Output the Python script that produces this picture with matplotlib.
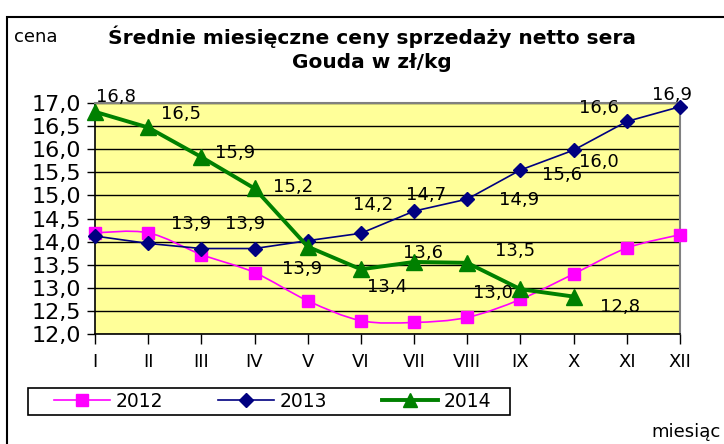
import matplotlib
matplotlib.use("Agg")
import matplotlib.pyplot as plt
from matplotlib.path import Path
from matplotlib.patches import PathPatch, Rectangle
from matplotlib.lines import Line2D
import numpy as np

# ---------------- data ----------------
months = ["I", "II", "III", "IV", "V", "VI", "VII", "VIII", "IX", "X", "XI", "XII"]
y2012 = [14.19, 14.19, 13.72, 13.33, 12.72, 12.29, 12.25, 12.36, 12.75, 13.30, 13.86, 14.15]
y2013 = [14.12, 13.96, 13.85, 13.85, 14.02, 14.18, 14.66, 14.92, 15.55, 15.98, 16.60, 16.92]
y2014 = [16.81, 16.47, 15.83, 15.15, 13.89, 13.40, 13.56, 13.54, 12.97, 12.81]
labels2013 = [None, None, "13,9", "13,9", None, "14,2", "14,7", "14,9", "15,6", "16,0", "16,6", "16,9"]
labels2014 = ["16,8", "16,5", "15,9", "15,2", "13,9", "13,4", "13,6", "13,5", "13,0", "12,8"]
series_names = ["2012", "2013", "2014"]
yticks = [12.0, 12.5, 13.0, 13.5, 14.0, 14.5, 15.0, 15.5, 16.0, 16.5, 17.0]

# label offsets in pixels (style only)
off2013 = [None, None, (-10, 25), (-9, 25), None, (12, 28), (12, 16), (52, -1),
           (42, -5), (25, -12), (-28, 13), (-8, 12)]
off2014 = [(21, 15), (33, 13), (34, 4), (39, 1), (-6, -22), (26, -18), (9, 9),
           (48, 12), (-28, -4), (46, -10)]

FONT = "DejaVu Sans"
plt.rcParams["font.family"] = [FONT]

W, H = 724, 444
fig = plt.figure(figsize=(W / 100, H / 100), dpi=100)
fig.patch.set_facecolor("white")

# outer frame
fig.patches.append(Rectangle((7 / W, -0.1), 1.2, 1 - 17 / H + 0.1, transform=fig.transFigure,
                             fill=False, edgecolor="black", linewidth=1.5, clip_on=False))

L, R, T, B = 95, 680, 103, 334
ax = fig.add_axes([L / W, 1 - B / H, (R - L) / W, (B - T) / H])
ax.set_facecolor("#FFFF99")
ax.set_xlim(0, 11)
ax.set_ylim(12, 17)

x = np.arange(len(months))

# grid
ax.set_yticks(yticks)
ax.set_yticklabels([f"{v:.1f}".replace(".", ",") for v in yticks], fontsize=16)
ax.yaxis.grid(True, color="black", linewidth=1.0)
ax.set_axisbelow(True)
ax.set_xticks(x)
ax.set_xticklabels(months, fontsize=13)
ax.tick_params(axis="y", direction="out", length=6, width=1, pad=4)
ax.tick_params(axis="x", direction="out", length=7, width=1, pad=7)
for s in ["top", "right"]:
    ax.spines[s].set_color("#808080")
    ax.spines[s].set_linewidth(1.5)
for s in ["left", "bottom"]:
    ax.spines[s].set_color("black")
    ax.spines[s].set_linewidth(1.2)

# smoothed 2012 line (Catmull-Rom as Bezier)
pts = np.column_stack([x, y2012])
verts = [tuple(pts[0])]
codes = [Path.MOVETO]
n = len(pts)
for i in range(n - 1):
    p0 = pts[i - 1] if i > 0 else pts[i]
    p1 = pts[i]
    p2 = pts[i + 1]
    p3 = pts[i + 2] if i + 2 < n else pts[i + 1]
    c1 = p1 + (p2 - p0) / 6
    c2 = p2 - (p3 - p1) / 6
    verts += [tuple(c1), tuple(c2), tuple(p2)]
    codes += [Path.CURVE4] * 3
ax.add_patch(PathPatch(Path(verts, codes), fill=False, edgecolor="#FF00FF",
                       linewidth=1.2, zorder=3, clip_on=False))
ax.plot(x, y2012, linestyle="none", marker="s", markersize=8, color="#FF00FF",
        zorder=4, clip_on=False)

ax.plot(x, y2013, color="#000080", linewidth=1.2, marker="D", markersize=7,
        zorder=5, clip_on=False)
ax.plot(x[:len(y2014)], y2014, color="#008000", linewidth=2.8, marker="^",
        markersize=12, zorder=6, clip_on=False)

lab_kw = dict(textcoords="offset pixels", ha="center", va="center", fontsize=13,
              color="black", zorder=8, annotation_clip=False)
for i, (lab, off) in enumerate(zip(labels2013, off2013)):
    if lab:
        ax.annotate(lab, xy=(x[i], y2013[i]), xytext=off, **lab_kw)
for i, (lab, off) in enumerate(zip(labels2014, off2014)):
    ax.annotate(lab, xy=(x[i], y2014[i]), xytext=off, **lab_kw)

# titles and axis captions
fig.text(372 / W, 1 - 37 / H, "Średnie miesięczne ceny sprzedaży netto sera",
         ha="center", va="center", fontsize=14.5, fontweight="bold")
fig.text(372 / W, 1 - 63 / H, "Gouda w zł/kg", ha="center", va="center",
         fontsize=14.5, fontweight="bold")
fig.text(14 / W, 1 - 37 / H, "cena", ha="left", va="center", fontsize=13)
fig.text(651 / W, 1 - 432 / H, "miesiąc", ha="left", va="center", fontsize=13)

# legend (frame drawn separately)
fig.patches.append(Rectangle((28 / W, 1 - 415 / H), 482 / W, 27 / H,
                             transform=fig.transFigure, fill=False,
                             edgecolor="black", linewidth=1.2))
handles = [
    Line2D([], [], color="#FF00FF", linewidth=1.2, marker="s", markersize=8),
    Line2D([], [], color="#000080", linewidth=1.2, marker="D", markersize=7),
    Line2D([], [], color="#008000", linewidth=2.8, marker="^", markersize=10),
]
leg = fig.legend(handles, series_names, loc="center left",
                 bbox_to_anchor=(54 / W, 1 - 401.5 / H), ncol=3, fontsize=13.5,
                 frameon=False, handlelength=3.0, handletextpad=0.3,
                 columnspacing=2.9, borderpad=0, borderaxespad=0)

fig.savefig("out.png", dpi=100)
